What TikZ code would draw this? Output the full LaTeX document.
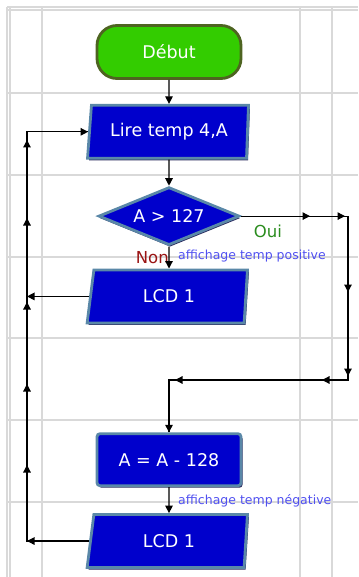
\documentclass[tikz,border=0pt]{standalone}
\usepackage{fontspec}
\setmainfont{DejaVu Sans}
\usetikzlibrary{arrows.meta,positioning,shapes.geometric,shadows}
\definecolor{gridGray}{HTML}{D9D9D9}
\definecolor{boxBlue}{HTML}{0000CC}
\definecolor{boxEdge}{HTML}{5A88A8}
\definecolor{boxShade}{HTML}{2A2A5E}
\definecolor{startGreen}{HTML}{33CC00}
\definecolor{startEdge}{HTML}{4E6421}
\definecolor{ouiGreen}{HTML}{2A8C1E}
\definecolor{nonRed}{HTML}{9A1414}
\definecolor{noteBlue}{HTML}{5050F0}

\begin{document}
\begin{tikzpicture}[x=1pt, y=-1pt, font=\fontsize{17.5}{20}\selectfont,
  grid/.style={draw=gridGray, line width=1.4pt},
  term/.style={draw=startEdge, line width=2.8pt, fill=startGreen, rounded corners=20pt, minimum width=144pt, minimum height=53pt, text=white},
  io/.style={trapezium, trapezium left angle=80, trapezium right angle=95, trapezium stretches=true, draw=boxEdge, line width=2.8pt, fill=boxBlue, minimum width=161pt, minimum height=53pt, text=white, inner sep=0pt,
    drop shadow={shadow xshift=1.5pt, shadow yshift=-2pt, fill=boxShade, opacity=1}},
  proc/.style={draw=boxEdge, line width=2.8pt, fill=boxBlue, rounded corners=3pt, minimum width=144pt, minimum height=52pt, text=white,
    drop shadow={shadow xshift=1.5pt, shadow yshift=-2pt, fill=boxShade, opacity=1}},
  dec/.style={diamond, aspect=2.4, draw=boxEdge, line width=2.8pt, fill=boxBlue, minimum width=141pt, minimum height=58pt, inner sep=0pt, text=white,
    drop shadow={shadow xshift=1pt, shadow yshift=-2pt, fill=boxShade, opacity=1}},
  wire/.style={line width=1.2pt},
  arr/.style={-{Triangle[length=7.5pt,width=7.5pt]}, line width=1.2pt},
  note/.style={font=\fontsize{12.5}{14}\selectfont, text=noteBlue, inner sep=0pt}]
\useasboundingbox (0,0) rectangle (358,577);
% background grid
\foreach \gx in {7,10,42,300,332}\draw[grid] (\gx,7) -- (\gx,577);
\foreach \gy in {7,10,93,175,257,338,420,502}\draw[grid] (7,\gy) -- (358,\gy);
% labels
\node[text=ouiGreen, font=\fontsize{16.5}{18}\selectfont] (oui) at (268,231) {Oui};
\node[text=nonRed, font=\fontsize{16.5}{18}\selectfont, anchor=east, inner sep=0pt] (non) at (169,258) {Non};
\node[note, anchor=west] (lpos) at (178,256) {affichage temp positive};
\node[note, anchor=west] (lneg) at (178,501) {affichage temp négative};
% blocks
\node[term] (debut) at (169,52) {Début};
\node[io, below=24pt of debut] (lire) {Lire temp 4,A};
\node[dec, below=26pt of lire] (cond) {A > 127};
\node[io, below=22pt of cond] (lcd1) {LCD 1};
\node[proc, below=108pt of lcd1] (calc) {A = A - 128};
\node[io, below=26pt of calc] (lcd2) {LCD 1};
\foreach \a/\b in {debut/lire,lire/cond,cond/lcd1,calc/lcd2}\draw[arr] (\a) -- (\b);
% Oui branch
\coordinate (r1) at (cond.east -| 310,0);
\coordinate (r2) at (cond.east -| 345,0);
\coordinate (r3) at (cond.east -| 348,0);
\coordinate (r4) at (348,292);
\coordinate (r5) at (348,376);
\coordinate (r6) at (348,380);
\coordinate (r7) at (322,380);
\coordinate (r8) at (175,380);
\coordinate (r9) at (calc.north |- 0,380);
\draw[wire] (cond.east) -- (r3) -- (r6) -- (r9) -- (calc.north);
\foreach \a/\b in {cond.east/r1,r1/r2,r3/r4,r4/r5,r6/r7,r7/r8,r9/calc.north}\draw[arr] (\a) -- (\b);
% return loop
\coordinate (l0) at (lcd2.west -| 27,0);
\coordinate (l1) at (27,465);
\coordinate (l2) at (27,384);
\coordinate (l3) at (27,302);
\coordinate (l4) at (27,218);
\coordinate (l5) at (27,140);
\coordinate (l6) at (lire.west -| 27,0);
\coordinate (lj) at (lcd1.west -| 27,0);
\draw[wire] (lcd2.west) -- (l0) -- (l6) -- (lire.west);
\foreach \a/\b in {lcd2.west/l0,l0/l1,l1/l2,l2/l3,l3/l4,l4/l5,l6/lire.west,lcd1.west/lj}\draw[arr] (\a) -- (\b);
\end{tikzpicture}
\end{document}
